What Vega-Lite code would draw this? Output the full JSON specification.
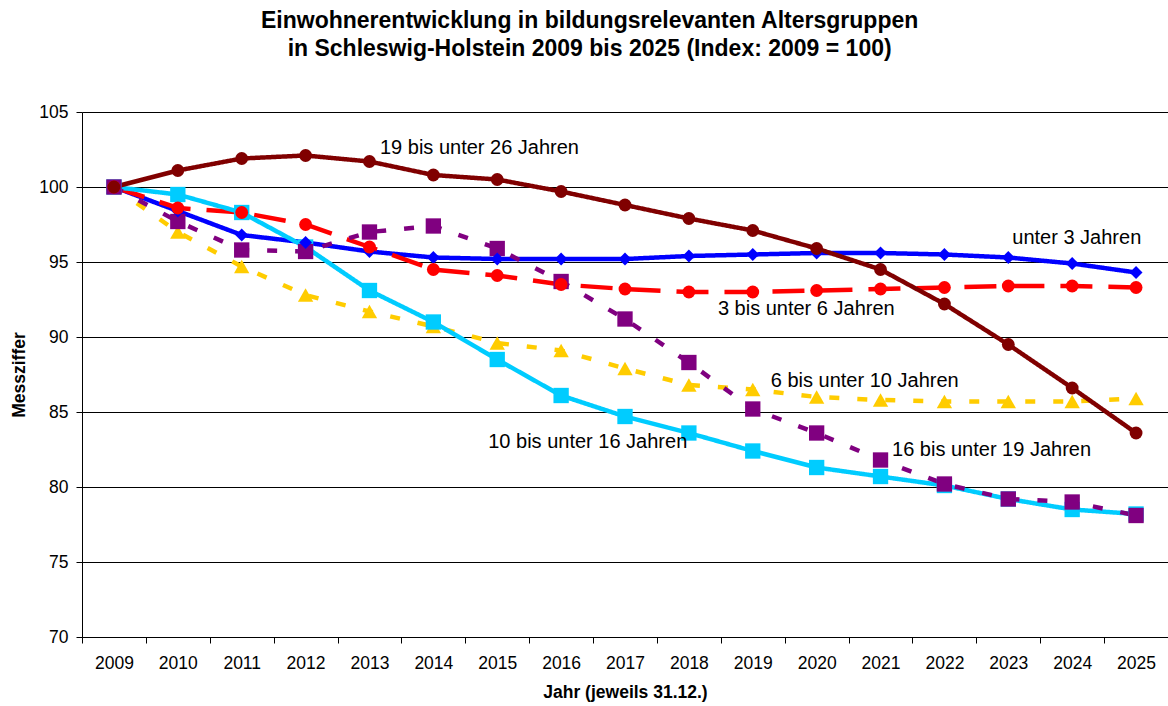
{
  "$schema": "https://vega.github.io/schema/vega-lite/v6.json",
  "width": 1086,
  "height": 525,
  "autosize": "none",
  "padding": {"left": 82, "top": 112, "right": 0, "bottom": 69},
  "background": "white",
  "title": {
    "text": ["Einwohnerentwicklung in bildungsrelevanten Altersgruppen", "in Schleswig-Holstein 2009 bis 2025 (Index: 2009 = 100)"],
    "font": "Liberation Sans",
    "fontSize": 23,
    "fontWeight": "bold",
    "lineHeight": 28,
    "anchor": "middle",
    "frame": "bounds",
    "color": "black",
    "offset": 42
  },
  "config": {
    "view": {"stroke": null},
    "font": "Liberation Sans",
    "axis": {
      "labelFont": "Liberation Sans",
      "titleFont": "Liberation Sans",
      "labelColor": "black",
      "titleColor": "black",
      "tickColor": "black",
      "domainColor": "black",
      "tickSize": 6,
      "labelFontSize": 17.5,
      "titleFontSize": 17.5,
      "titleFontWeight": "bold"
    }
  },
  "datasets": {
    "series": [
      {"series": "6 bis unter 10 Jahren", "year": 2009, "value": 100},
      {"series": "6 bis unter 10 Jahren", "year": 2010, "value": 97.0},
      {"series": "6 bis unter 10 Jahren", "year": 2011, "value": 94.7},
      {"series": "6 bis unter 10 Jahren", "year": 2012, "value": 92.8},
      {"series": "6 bis unter 10 Jahren", "year": 2013, "value": 91.7},
      {"series": "6 bis unter 10 Jahren", "year": 2014, "value": 90.7},
      {"series": "6 bis unter 10 Jahren", "year": 2015, "value": 89.6},
      {"series": "6 bis unter 10 Jahren", "year": 2016, "value": 89.1},
      {"series": "6 bis unter 10 Jahren", "year": 2017, "value": 87.9},
      {"series": "6 bis unter 10 Jahren", "year": 2018, "value": 86.8},
      {"series": "6 bis unter 10 Jahren", "year": 2019, "value": 86.5},
      {"series": "6 bis unter 10 Jahren", "year": 2020, "value": 86.0},
      {"series": "6 bis unter 10 Jahren", "year": 2021, "value": 85.8},
      {"series": "6 bis unter 10 Jahren", "year": 2022, "value": 85.7},
      {"series": "6 bis unter 10 Jahren", "year": 2023, "value": 85.7},
      {"series": "6 bis unter 10 Jahren", "year": 2024, "value": 85.7},
      {"series": "6 bis unter 10 Jahren", "year": 2025, "value": 85.9},
      {"series": "unter 3 Jahren", "year": 2009, "value": 100},
      {"series": "unter 3 Jahren", "year": 2010, "value": 98.4},
      {"series": "unter 3 Jahren", "year": 2011, "value": 96.8},
      {"series": "unter 3 Jahren", "year": 2012, "value": 96.3},
      {"series": "unter 3 Jahren", "year": 2013, "value": 95.7},
      {"series": "unter 3 Jahren", "year": 2014, "value": 95.3},
      {"series": "unter 3 Jahren", "year": 2015, "value": 95.2},
      {"series": "unter 3 Jahren", "year": 2016, "value": 95.2},
      {"series": "unter 3 Jahren", "year": 2017, "value": 95.2},
      {"series": "unter 3 Jahren", "year": 2018, "value": 95.4},
      {"series": "unter 3 Jahren", "year": 2019, "value": 95.5},
      {"series": "unter 3 Jahren", "year": 2020, "value": 95.6},
      {"series": "unter 3 Jahren", "year": 2021, "value": 95.6},
      {"series": "unter 3 Jahren", "year": 2022, "value": 95.5},
      {"series": "unter 3 Jahren", "year": 2023, "value": 95.3},
      {"series": "unter 3 Jahren", "year": 2024, "value": 94.9},
      {"series": "unter 3 Jahren", "year": 2025, "value": 94.3},
      {"series": "3 bis unter 6 Jahren", "year": 2009, "value": 100},
      {"series": "3 bis unter 6 Jahren", "year": 2010, "value": 98.6},
      {"series": "3 bis unter 6 Jahren", "year": 2011, "value": 98.3},
      {"series": "3 bis unter 6 Jahren", "year": 2012, "value": 97.5},
      {"series": "3 bis unter 6 Jahren", "year": 2013, "value": 96.0},
      {"series": "3 bis unter 6 Jahren", "year": 2014, "value": 94.5},
      {"series": "3 bis unter 6 Jahren", "year": 2015, "value": 94.1},
      {"series": "3 bis unter 6 Jahren", "year": 2016, "value": 93.5},
      {"series": "3 bis unter 6 Jahren", "year": 2017, "value": 93.2},
      {"series": "3 bis unter 6 Jahren", "year": 2018, "value": 93.0},
      {"series": "3 bis unter 6 Jahren", "year": 2019, "value": 93.0},
      {"series": "3 bis unter 6 Jahren", "year": 2020, "value": 93.1},
      {"series": "3 bis unter 6 Jahren", "year": 2021, "value": 93.2},
      {"series": "3 bis unter 6 Jahren", "year": 2022, "value": 93.3},
      {"series": "3 bis unter 6 Jahren", "year": 2023, "value": 93.4},
      {"series": "3 bis unter 6 Jahren", "year": 2024, "value": 93.4},
      {"series": "3 bis unter 6 Jahren", "year": 2025, "value": 93.3},
      {"series": "10 bis unter 16 Jahren", "year": 2009, "value": 100},
      {"series": "10 bis unter 16 Jahren", "year": 2010, "value": 99.5},
      {"series": "10 bis unter 16 Jahren", "year": 2011, "value": 98.3},
      {"series": "10 bis unter 16 Jahren", "year": 2012, "value": 96.0},
      {"series": "10 bis unter 16 Jahren", "year": 2013, "value": 93.1},
      {"series": "10 bis unter 16 Jahren", "year": 2014, "value": 91.0},
      {"series": "10 bis unter 16 Jahren", "year": 2015, "value": 88.5},
      {"series": "10 bis unter 16 Jahren", "year": 2016, "value": 86.1},
      {"series": "10 bis unter 16 Jahren", "year": 2017, "value": 84.7},
      {"series": "10 bis unter 16 Jahren", "year": 2018, "value": 83.6},
      {"series": "10 bis unter 16 Jahren", "year": 2019, "value": 82.4},
      {"series": "10 bis unter 16 Jahren", "year": 2020, "value": 81.3},
      {"series": "10 bis unter 16 Jahren", "year": 2021, "value": 80.7},
      {"series": "10 bis unter 16 Jahren", "year": 2022, "value": 80.1},
      {"series": "10 bis unter 16 Jahren", "year": 2023, "value": 79.2},
      {"series": "10 bis unter 16 Jahren", "year": 2024, "value": 78.5},
      {"series": "10 bis unter 16 Jahren", "year": 2025, "value": 78.2},
      {"series": "16 bis unter 19 Jahren", "year": 2009, "value": 100},
      {"series": "16 bis unter 19 Jahren", "year": 2010, "value": 97.7},
      {"series": "16 bis unter 19 Jahren", "year": 2011, "value": 95.8},
      {"series": "16 bis unter 19 Jahren", "year": 2012, "value": 95.7},
      {"series": "16 bis unter 19 Jahren", "year": 2013, "value": 97.0},
      {"series": "16 bis unter 19 Jahren", "year": 2014, "value": 97.4},
      {"series": "16 bis unter 19 Jahren", "year": 2015, "value": 95.9},
      {"series": "16 bis unter 19 Jahren", "year": 2016, "value": 93.7},
      {"series": "16 bis unter 19 Jahren", "year": 2017, "value": 91.2},
      {"series": "16 bis unter 19 Jahren", "year": 2018, "value": 88.3},
      {"series": "16 bis unter 19 Jahren", "year": 2019, "value": 85.2},
      {"series": "16 bis unter 19 Jahren", "year": 2020, "value": 83.6},
      {"series": "16 bis unter 19 Jahren", "year": 2021, "value": 81.8},
      {"series": "16 bis unter 19 Jahren", "year": 2022, "value": 80.2},
      {"series": "16 bis unter 19 Jahren", "year": 2023, "value": 79.2},
      {"series": "16 bis unter 19 Jahren", "year": 2024, "value": 79.0},
      {"series": "16 bis unter 19 Jahren", "year": 2025, "value": 78.1},
      {"series": "19 bis unter 26 Jahren", "year": 2009, "value": 100},
      {"series": "19 bis unter 26 Jahren", "year": 2010, "value": 101.1},
      {"series": "19 bis unter 26 Jahren", "year": 2011, "value": 101.9},
      {"series": "19 bis unter 26 Jahren", "year": 2012, "value": 102.1},
      {"series": "19 bis unter 26 Jahren", "year": 2013, "value": 101.7},
      {"series": "19 bis unter 26 Jahren", "year": 2014, "value": 100.8},
      {"series": "19 bis unter 26 Jahren", "year": 2015, "value": 100.5},
      {"series": "19 bis unter 26 Jahren", "year": 2016, "value": 99.7},
      {"series": "19 bis unter 26 Jahren", "year": 2017, "value": 98.8},
      {"series": "19 bis unter 26 Jahren", "year": 2018, "value": 97.9},
      {"series": "19 bis unter 26 Jahren", "year": 2019, "value": 97.1},
      {"series": "19 bis unter 26 Jahren", "year": 2020, "value": 95.9},
      {"series": "19 bis unter 26 Jahren", "year": 2021, "value": 94.5},
      {"series": "19 bis unter 26 Jahren", "year": 2022, "value": 92.2},
      {"series": "19 bis unter 26 Jahren", "year": 2023, "value": 89.5},
      {"series": "19 bis unter 26 Jahren", "year": 2024, "value": 86.6},
      {"series": "19 bis unter 26 Jahren", "year": 2025, "value": 83.6}
    ],
    "labels": [
      {"label": "19 bis unter 26 Jahren", "year": 2013, "value": 102.6},
      {"label": "unter 3 Jahren", "year": 2023, "value": 96.6},
      {"label": "3 bis unter 6 Jahren", "year": 2018, "value": 91.9},
      {"label": "6 bis unter 10 Jahren", "year": 2019, "value": 87.1},
      {"label": "10 bis unter 16 Jahren", "year": 2015, "value": 83.0},
      {"label": "16 bis unter 19 Jahren", "year": 2021, "value": 82.5}
    ]
  },
  "data": {"name": "series"},
  "encoding": {
    "x": {
      "field": "year",
      "type": "ordinal",
      "scale": {"type": "band", "paddingInner": 0, "paddingOuter": 0},
      "axis": {
        "title": "Jahr (jeweils 31.12.)",
        "labelAngle": 0,
        "tickBand": "extent",
        "labelPadding": 11,
        "titlePadding": 12,
        "grid": false
      }
    },
    "y": {
      "field": "value",
      "type": "quantitative",
      "scale": {"domain": [70, 105], "nice": false, "zero": false},
      "axis": {
        "title": "Messziffer",
        "values": [70, 75, 80, 85, 90, 95, 100, 105],
        "labelPadding": 8,
        "titlePadding": 10,
        "grid": true,
        "gridColor": "black",
        "gridOpacity": 1,
        "gridWidth": 1
      }
    }
  },
  "layer": [
    {
      "mark": {"type": "line", "strokeWidth": 4.5, "strokeCap": "butt"},
      "encoding": {
        "color": {
          "field": "series",
          "type": "nominal",
          "scale": {
            "domain": ["6 bis unter 10 Jahren", "unter 3 Jahren", "3 bis unter 6 Jahren", "10 bis unter 16 Jahren", "16 bis unter 19 Jahren", "19 bis unter 26 Jahren"],
            "range": ["#FFCC00", "#0000FF", "#FF0000", "#00CCFF", "#800080", "#800000"]
          },
          "legend": null
        },
        "strokeDash": {
          "field": "series",
          "type": "nominal",
          "scale": {
            "domain": ["6 bis unter 10 Jahren", "unter 3 Jahren", "3 bis unter 6 Jahren", "10 bis unter 16 Jahren", "16 bis unter 19 Jahren", "19 bis unter 26 Jahren"],
            "range": [[10, 18], [1, 0], [32, 16], [1, 0], [10, 18], [1, 0]]
          },
          "legend": null
        }
      }
    },
    {
      "transform": [{"filter": "datum.series === '6 bis unter 10 Jahren' || datum.series === '10 bis unter 16 Jahren' || datum.series === '16 bis unter 19 Jahren'"}],
      "mark": {"type": "point", "filled": true, "opacity": 1, "size": 235, "strokeWidth": 0},
      "encoding": {
        "color": {"field": "series", "type": "nominal", "legend": null},
        "shape": {
          "field": "series",
          "type": "nominal",
          "scale": {
            "domain": ["6 bis unter 10 Jahren", "unter 3 Jahren", "3 bis unter 6 Jahren", "10 bis unter 16 Jahren", "16 bis unter 19 Jahren", "19 bis unter 26 Jahren"],
            "range": ["triangle-up", "diamond", "circle", "square", "square", "circle"]
          },
          "legend": null
        }
      }
    },
    {
      "transform": [{"filter": "datum.series === 'unter 3 Jahren' || datum.series === '3 bis unter 6 Jahren' || datum.series === '19 bis unter 26 Jahren'"}],
      "mark": {"type": "point", "filled": true, "opacity": 1, "size": 165, "strokeWidth": 0},
      "encoding": {
        "color": {"field": "series", "type": "nominal", "legend": null},
        "shape": {"field": "series", "type": "nominal", "legend": null}
      }
    },
    {
      "data": {"name": "labels"},
      "transform": [{"filter": "datum.label === '19 bis unter 26 Jahren'"}],
      "mark": {"type": "text", "align": "left", "baseline": "middle", "dx": 10.5, "fontSize": 20, "font": "Liberation Sans", "color": "black"},
      "encoding": {"text": {"field": "label"}}
    },
    {
      "data": {"name": "labels"},
      "transform": [{"filter": "datum.label === 'unter 3 Jahren'"}],
      "mark": {"type": "text", "align": "left", "baseline": "middle", "dx": 4, "fontSize": 20, "font": "Liberation Sans", "color": "black"},
      "encoding": {"text": {"field": "label"}}
    },
    {
      "data": {"name": "labels"},
      "transform": [{"filter": "datum.label === '3 bis unter 6 Jahren'"}],
      "mark": {"type": "text", "align": "left", "baseline": "middle", "dx": 29, "fontSize": 20, "font": "Liberation Sans", "color": "black"},
      "encoding": {"text": {"field": "label"}}
    },
    {
      "data": {"name": "labels"},
      "transform": [{"filter": "datum.label === '6 bis unter 10 Jahren'"}],
      "mark": {"type": "text", "align": "left", "baseline": "middle", "dx": 18, "fontSize": 20, "font": "Liberation Sans", "color": "black"},
      "encoding": {"text": {"field": "label"}}
    },
    {
      "data": {"name": "labels"},
      "transform": [{"filter": "datum.label === '10 bis unter 16 Jahren'"}],
      "mark": {"type": "text", "align": "left", "baseline": "middle", "dx": -9, "fontSize": 20, "font": "Liberation Sans", "color": "black"},
      "encoding": {"text": {"field": "label"}}
    },
    {
      "data": {"name": "labels"},
      "transform": [{"filter": "datum.label === '16 bis unter 19 Jahren'"}],
      "mark": {"type": "text", "align": "left", "baseline": "middle", "dx": 11.5, "fontSize": 20, "font": "Liberation Sans", "color": "black"},
      "encoding": {"text": {"field": "label"}}
    }
  ]
}
